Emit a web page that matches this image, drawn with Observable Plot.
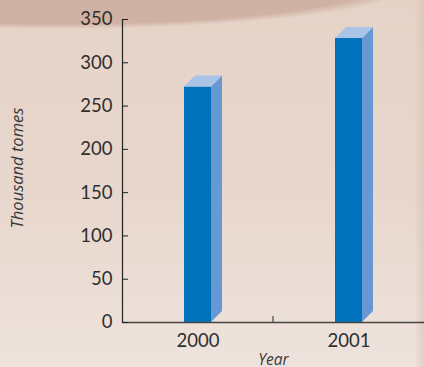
<!DOCTYPE html>
<html>
<head>
<meta charset="utf-8">
<script src="https://cdn.jsdelivr.net/npm/d3@7"></script>
<script src="https://cdn.jsdelivr.net/npm/@observablehq/plot@0.6"></script>
<style>
  html, body { margin: 0; padding: 0; }
  #chart {
    width: 424px; height: 367px; position: relative; overflow: hidden;
    background:
      linear-gradient(to left, rgba(214,190,176,0.55) 0px, rgba(214,190,176,0) 10px),
      radial-gradient(ellipse 365px 50px at 60px -21px, #ceafa1 0%, #d0b2a4 90%, rgba(209,179,165,0) 100%),
      linear-gradient(to bottom, #e6d3c8 0%, #e8d7cd 55%, #eee3dd 100%);
  }
</style>
</head>
<body>
<div id="chart"></div>
<script>
const years = ["2000", "2001"];
const values = [272, 328];
const yTicks = [0, 50, 100, 150, 200, 250, 300, 350];
const yLabel = "Thousand tomes";
const xLabel = "Year";

const data = years.map((year, i) => ({year, value: values[i]}));

const frontColor = "#0071bb";
const sideColor = "#6699d3";
const topColor = "#aac4e7";
const ink = "#2e2e2e";

const chart = Plot.plot({
  width: 424,
  height: 367,
  marginTop: 19,
  marginBottom: 45,
  marginLeft: 122,
  marginRight: 0,
  style: {background: "transparent", fontFamily: "Lato, 'Open Sans', sans-serif", color: ink},
  x: {domain: years, paddingInner: 0, paddingOuter: 0, label: null},
  y: {domain: [0, 350], label: null},
  marks: [
    Plot.barY(data, {x: "year", y: "value", insetLeft: 62, insetRight: 62, fill: frontColor}),
    Plot.frame({anchor: "left", stroke: "#222", strokeWidth: 1.2}),
    Plot.ruleY([0], {stroke: "#444", strokeWidth: 1.4}),
    Plot.axisY({ticks: yTicks, tickSize: -6, tickPadding: 16, fontSize: 18.5, label: null, stroke: "#222", fill: ink}),
    Plot.axisX({tickSize: 0, tickPadding: 11, fontSize: 18.5, label: null, fill: ink}),
    Plot.text([yLabel], {frameAnchor: "left", textAnchor: "middle", rotate: -90, dx: -105, dy: -3, fontSize: 16.5, fontStyle: "italic", fontFamily: "'Open Sans', sans-serif", fill: "#3a3a3a"}),
    Plot.text([xLabel], {frameAnchor: "bottom", dy: 31, lineAnchor: "top", fontSize: 15.5, fontStyle: "italic", fontFamily: "'Open Sans', sans-serif", fill: "#3a3a3a"})
  ]
});

document.getElementById("chart").appendChild(chart);

// 3D faces and the band separator tick, placed with the chart's own scales
const xs = chart.scale("x");
const ys = chart.scale("y");
const depth = 11;
const faceHalf = (xs.bandwidth - 124) / 2;
const svg = d3.select(chart);
const g = svg.append("g").attr("aria-label", "bar-3d");
data.forEach(d => {
  const cx = xs.apply(d.year) + xs.bandwidth / 2;
  const xl = cx - faceHalf, xr = cx + faceHalf;
  const yv = ys.apply(d.value), y0 = ys.apply(0);
  g.append("polygon")
    .attr("points", [[xr, yv], [xr + depth, yv - depth], [xr + depth, y0 - depth], [xr, y0]].join(" "))
    .attr("fill", sideColor);
  g.append("polygon")
    .attr("points", [[xl, yv], [xr, yv], [xr + depth, yv - depth], [xl + depth, yv - depth]].join(" "))
    .attr("fill", topColor);
});
const sepX = xs.apply(years[0]) + xs.bandwidth;
svg.append("line")
  .attr("x1", sepX).attr("x2", sepX)
  .attr("y1", ys.apply(0)).attr("y2", ys.apply(0) - 6)
  .attr("stroke", "#444").attr("stroke-width", 1.2);
</script>
</body>
</html>
